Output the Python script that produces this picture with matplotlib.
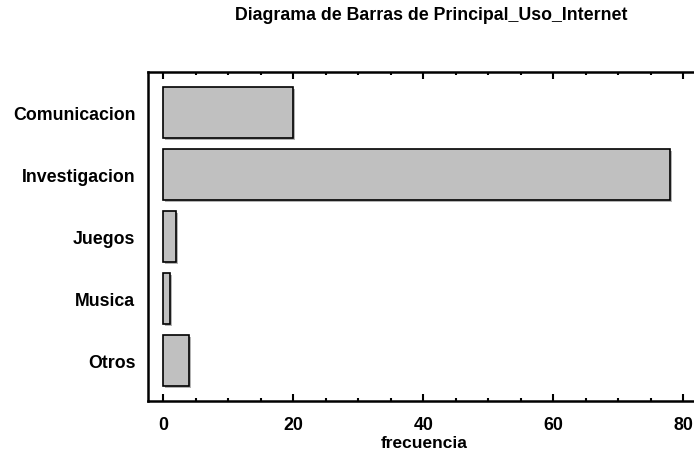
import matplotlib
matplotlib.use("Agg")
import matplotlib.pyplot as plt
import matplotlib.patheffects as pe
from matplotlib.ticker import MultipleLocator

categories = ["Comunicacion", "Investigacion", "Juegos", "Musica", "Otros"]
frecuencia = [20, 78, 2, 1, 4]
xticks = [0, 20, 40, 60, 80]

plt.rcParams['font.family'] = ['Liberation Sans', 'DejaVu Sans']
plt.rcParams['font.weight'] = 'bold'

fig = plt.figure(figsize=(6.94, 4.52), dpi=100)
ax = fig.add_axes([148/694, 1-402/452, (694-148)/694 + 0.01, (402-73)/452])

ypos = list(range(len(categories)))
bars = ax.barh(ypos, frecuencia, height=0.82, color='#c0c0c0', edgecolor='black',
               linewidth=1.2, zorder=3)
for b in bars:
    b.set_path_effects([pe.SimplePatchShadow(offset=(1.5, -1.5), shadow_rgbFace='#a0a0a0', alpha=0.8),
                        pe.Normal()])

ax.set_xlim(-2.35, 81.65 + 0.01*694/6.5)
ax.set_ylim(4.65, -0.65)
ax.set_yticks(ypos)
ax.set_yticklabels(categories, fontsize=12.8, fontweight='bold')
ax.set_xticks(xticks)
ax.set_xticklabels([str(v) for v in xticks], fontsize=12.8, fontweight='bold')
ax.xaxis.set_minor_locator(MultipleLocator(5))
ax.tick_params(axis='y', length=0, pad=9)
ax.tick_params(axis='x', which='major', direction='in', length=5, width=1.5, top=True, pad=11)
ax.tick_params(axis='x', which='minor', direction='in', length=2.5, width=1.5, top=True)
for s in ['left', 'top', 'bottom']:
    ax.spines[s].set_linewidth(1.8)
ax.spines['right'].set_visible(False)

ax.set_xlabel("frecuencia", fontsize=12.5, fontweight='bold', labelpad=1)
fig.text(431/694, 1-15/452, "Diagrama de Barras de Principal_Uso_Internet",
         ha='center', va='center', fontsize=12.8, fontweight='bold')

fig.savefig("out.png", dpi=100)
